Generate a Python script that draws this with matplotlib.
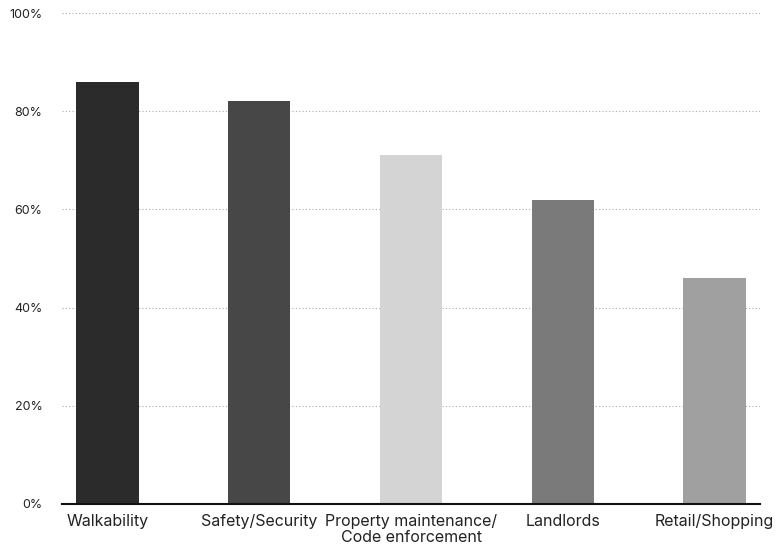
import matplotlib
matplotlib.use('Agg')
import matplotlib.pyplot as plt
from matplotlib.ticker import FuncFormatter

categories = ['Walkability', 'Safety/Security', 'Property maintenance/\nCode enforcement',
              'Landlords', 'Retail/Shopping']
values = [86, 82, 71, 62, 46]
colors = ['#2b2b2b', '#474747', '#d4d4d4', '#7a7a7a', '#a0a0a0']
yticks = [0, 20, 40, 60, 80, 100]

plt.rcParams['font.family'] = ['Inter', 'DejaVu Sans']

fig = plt.figure(figsize=(7.79, 5.54), dpi=100)
ax = fig.add_axes([0.0796, 0.0903, 0.896, 0.8862])

x = range(len(categories))
ax.bar(x, values, width=0.41, color=colors, zorder=2)

ax.set_xlim(-0.3, 4.3)
ax.set_ylim(0, 100)
ax.set_yticks(yticks)
ax.yaxis.set_major_formatter(FuncFormatter(lambda v, p: '%d%%' % v))
ax.set_xticks(list(x))
ax.set_xticklabels(categories, fontsize=11.5, color='#222222', linespacing=1.15)
ax.tick_params(axis='y', length=0, pad=14, labelsize=9, labelcolor='#222222')
ax.tick_params(axis='x', length=0, pad=7)

ax.grid(axis='y', linestyle=(0, (1, 2)), color='#aaaaaa', linewidth=0.8, zorder=0)
for side in ['top', 'right', 'left']:
    ax.spines[side].set_visible(False)
ax.spines['bottom'].set_linewidth(1.5)
ax.spines['bottom'].set_color('#111111')

fig.savefig('out.png', dpi=100)
